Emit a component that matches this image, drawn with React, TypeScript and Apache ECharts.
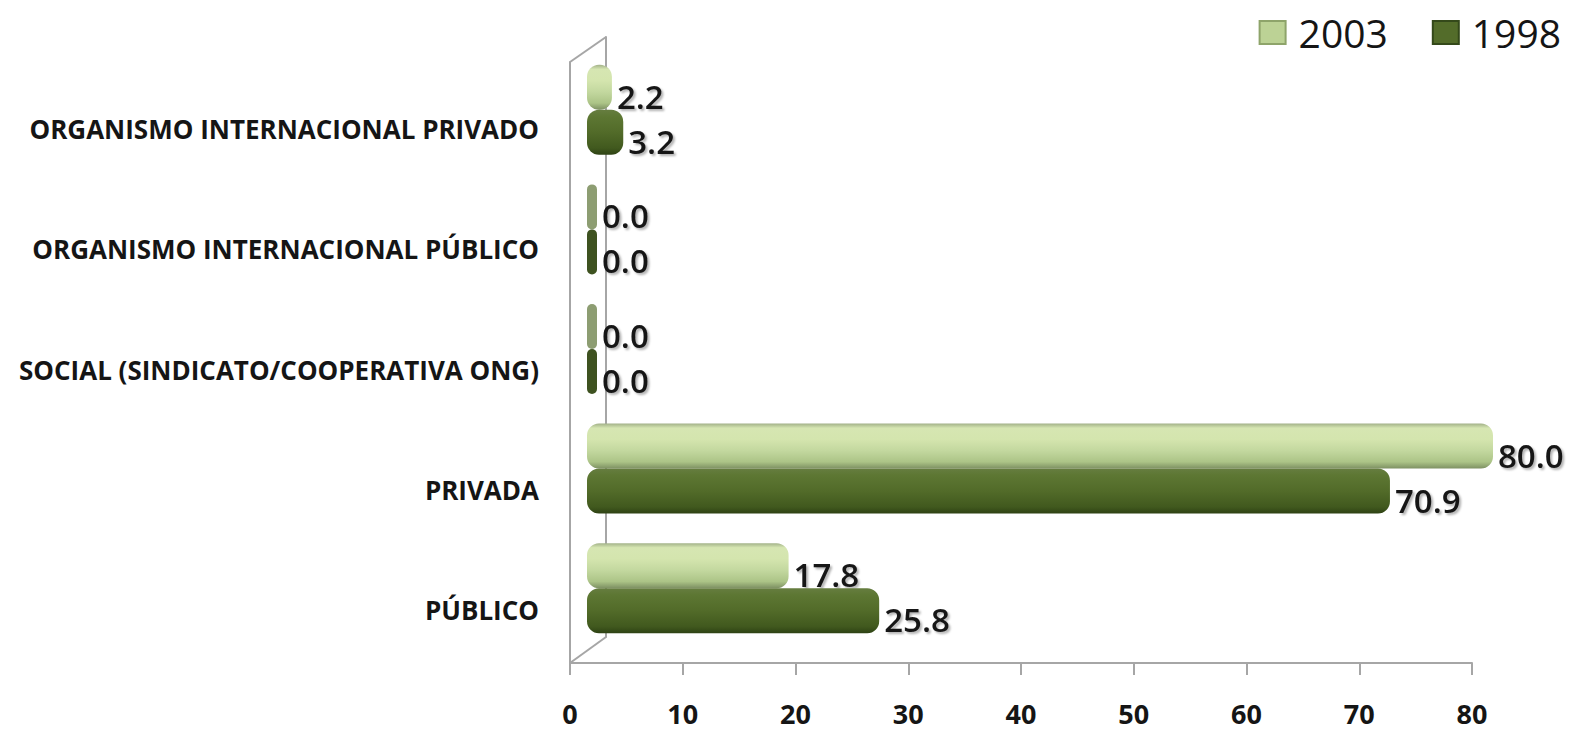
import React, { useEffect, useRef } from "react";
import * as echarts from "echarts";

const categories = [
  "PÚBLICO",
  "PRIVADA",
  "SOCIAL (SINDICATO/COOPERATIVA ONG)",
  "ORGANISMO INTERNACIONAL PÚBLICO",
  "ORGANISMO INTERNACIONAL PRIVADO",
];
const values2003 = [17.8, 80.0, 0.0, 0.0, 2.2];
const values1998 = [25.8, 70.9, 0.0, 0.0, 3.2];
const seriesNames = ["2003", "1998"];
const xTicks = { min: 0, max: 80, interval: 10 };

const FONT = "'Open Sans', 'Noto Sans', sans-serif";

function lightGrad() {
  return new echarts.graphic.LinearGradient(0, 0, 0, 1, [
    { offset: 0, color: "#a3b289" },
    { offset: 0.1, color: "#d6e6b2" },
    { offset: 0.35, color: "#d4e5ae" },
    { offset: 0.6, color: "#c3d89f" },
    { offset: 0.85, color: "#acc487" },
    { offset: 1, color: "#7d9062" },
  ]);
}
function darkGrad() {
  return new echarts.graphic.LinearGradient(0, 0, 0, 1, [
    { offset: 0, color: "#667d40" },
    { offset: 0.15, color: "#5d7733" },
    { offset: 0.5, color: "#526b29" },
    { offset: 0.85, color: "#41591e" },
    { offset: 1, color: "#2e4214" },
  ]);
}

export default function App() {
  const ref = useRef<HTMLDivElement>(null);
  useEffect(() => {
    document.body.style.margin = "0";
    const chart = echarts.init(ref.current!, null, { renderer: "svg" });
    const labelStyle = {
      show: true,
      position: "right",
      distance: 5,
      offset: [0, 9],
      fontFamily: FONT,
      fontSize: 33,
      fontWeight: 600,
      color: "#151515",
      textShadowColor: "rgba(0,0,0,0.3)",
      textShadowBlur: 2,
      textShadowOffsetX: 2,
      textShadowOffsetY: 2,
      formatter: (p: any) => Number(p.value).toFixed(1),
    };
    const mk = (vals: number[], grad: () => any, zeroColor: string) =>
      vals.map((v) =>
        v === 0
          ? { value: v, itemStyle: { color: zeroColor } }
          : { value: v, itemStyle: { color: grad() } }
      );
    chart.setOption({
      animation: false,
      backgroundColor: "#ffffff",
      legend: {
        data: [
          { name: "2003", itemStyle: { color: "#bcd295", borderColor: "#8ea46a", borderWidth: 2 } },
          { name: "1998", itemStyle: { color: "#536c2a", borderColor: "#34491a", borderWidth: 2 } },
        ],
        right: 10,
        top: 8,
        itemWidth: 26,
        itemHeight: 23,
        itemGap: 44,
        icon: "rect",
        textStyle: { fontFamily: FONT, fontSize: 39, color: "#151515", padding: [0, 0, 0, 8] },
      },
      grid: [
        { left: 570, top: 62, width: 902, height: 601 },
        { left: 570, top: 69, width: 902, height: 601 },
        { left: 606, top: 37, width: 902, height: 600 },
        { left: 587, top: 50, width: 906, height: 598 },
      ],
      xAxis: [
        {
          gridIndex: 0,
          type: "value",
          min: xTicks.min,
          max: xTicks.max,
          interval: xTicks.interval,
          axisLine: { show: true, lineStyle: { color: "#a6a6a6", width: 2 } },
          axisTick: { show: true, length: 12, lineStyle: { color: "#a6a6a6", width: 2 } },
          axisLabel: {
            fontFamily: FONT,
            fontSize: 27,
            lineHeight: 28,
            fontWeight: "bold",
            color: "#151515",
            margin: 36,
          },
          splitLine: { show: false },
        },
        { gridIndex: 1, type: "value", min: 0, max: 80, show: false },
        { gridIndex: 2, type: "value", min: 0, max: 80, show: false },
        { gridIndex: 3, type: "value", min: xTicks.min, max: xTicks.max, show: false },
      ],
      yAxis: [
        {
          gridIndex: 0,
          type: "category",
          data: categories,
          axisLine: { show: true, lineStyle: { color: "#a6a6a6", width: 2 } },
          axisTick: { show: false },
          axisLabel: { show: false },
        },
        {
          gridIndex: 1,
          type: "category",
          data: categories,
          axisLine: { show: false },
          axisTick: { show: false },
          axisLabel: {
            show: true,
            fontFamily: FONT,
            fontSize: 26,
            fontWeight: "bold",
            color: "#151515",
            margin: 31,
          },
        },
        {
          gridIndex: 2,
          type: "category",
          data: categories,
          axisLine: { show: true, lineStyle: { color: "#a6a6a6", width: 2 } },
          axisTick: { show: false },
          axisLabel: { show: false },
        },
        { gridIndex: 3, type: "category", data: categories, show: false },
      ],
      graphic: [
        { type: "line", shape: { x1: 570, y1: 62, x2: 606, y2: 37 }, style: { stroke: "#a6a6a6", lineWidth: 2 }, z: 0 },
        { type: "line", shape: { x1: 570, y1: 663, x2: 606, y2: 637 }, style: { stroke: "#a6a6a6", lineWidth: 2 }, z: 0 },
      ],
      series: [
        {
          name: seriesNames[0],
          type: "bar",
          xAxisIndex: 3,
          yAxisIndex: 3,
          data: mk(values2003, lightGrad, "#8d9d72"),
          barWidth: 45,
          barGap: "0%",
          barMinHeight: 10,
          itemStyle: { borderRadius: 12 },
          label: labelStyle,
          z: 4,
        },
        {
          name: seriesNames[1],
          type: "bar",
          xAxisIndex: 3,
          yAxisIndex: 3,
          data: mk(values1998, darkGrad, "#3e5220"),
          barWidth: 45,
          barGap: "0%",
          barMinHeight: 10,
          itemStyle: { borderRadius: 12 },
          label: labelStyle,
          z: 5,
        },
      ],
    });
    return () => chart.dispose();
  }, []);
  return <div ref={ref} style={{ width: 1576, height: 730 }} />;
}
